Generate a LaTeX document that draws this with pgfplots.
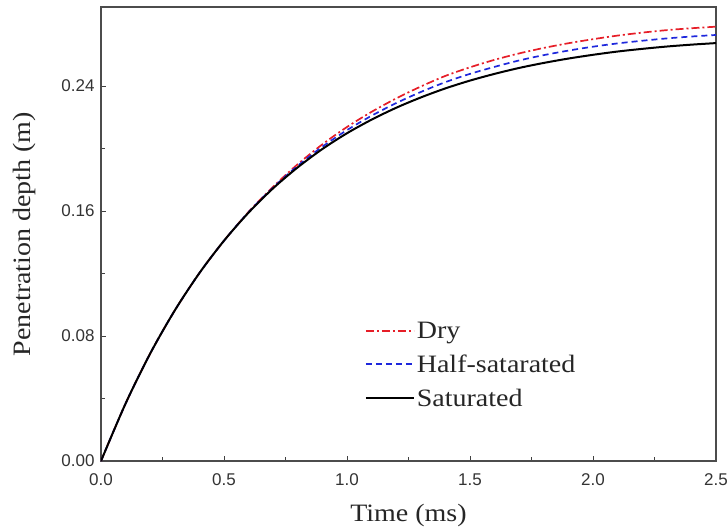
\documentclass[border=0pt]{standalone}
\usepackage{fontspec}
\usepackage{pgfplots}
\pgfplotsset{compat=1.18}
\setmainfont{Liberation Serif}
\newfontfamily\tickfont{Liberation Sans}
\newfontfamily\lblfont[FakeStretch=1.12]{Liberation Serif}
\definecolor{dryred}{RGB}{230,30,40}
\definecolor{halfblue}{RGB}{30,40,220}

\pgfplotstableread{
t y
0.0 0.0
0.1 0.0368
0.2 0.0688
0.3 0.0964
0.4 0.1203
0.5 0.1410
0.6 0.1595
0.7 0.1756
0.8 0.1900
0.9 0.2027
1.0 0.2138
1.1 0.2235
1.2 0.2321
1.3 0.2397
1.4 0.2465
1.5 0.2520
1.6 0.2568
1.7 0.2609
1.8 0.2644
1.9 0.2674
2.0 0.2700
2.1 0.2723
2.2 0.2742
2.3 0.2758
2.4 0.2770
2.5 0.2780
}\dry

\pgfplotstableread{
t y
0.0 0.0
0.1 0.0368
0.2 0.0688
0.3 0.0964
0.4 0.1203
0.5 0.1410
0.6 0.1593
0.7 0.1751
0.8 0.1890
0.9 0.2012
1.0 0.2118
1.1 0.2210
1.2 0.2291
1.3 0.2362
1.4 0.2425
1.5 0.2478
1.6 0.2523
1.7 0.2564
1.8 0.2598
1.9 0.2627
2.0 0.2652
2.1 0.2673
2.2 0.2690
2.3 0.2705
2.4 0.2717
2.5 0.2727
}\half

\pgfplotstableread{
t y
0.0 0.0
0.1 0.0368
0.2 0.0688
0.3 0.0964
0.4 0.1203
0.5 0.1410
0.6 0.1590
0.7 0.1746
0.8 0.1880
0.9 0.1997
1.0 0.2098
1.1 0.2185
1.2 0.2261
1.3 0.2327
1.4 0.2385
1.5 0.2435
1.6 0.2478
1.7 0.2516
1.8 0.2548
1.9 0.2576
2.0 0.2600
2.1 0.2621
2.2 0.2638
2.3 0.2653
2.4 0.2665
2.5 0.2675
}\sat

\begin{document}
\begin{tikzpicture}
\useasboundingbox (-101pt,-70pt) rectangle (626pt,461pt);
\begin{axis}[at={(0,0)}, anchor=south west,
  scale only axis, width=615pt, height=454pt,
  xmin=0, xmax=2.5, ymin=0, ymax=0.2906,
  xtick={0,0.5,...,2.5}, ytick={0,0.08,0.16,0.24},
  minor x tick num=1, minor y tick num=1,
  xtick pos=left, ytick pos=left, tick align=inside,
  major tick length=5pt, minor tick length=4pt,
  axis line style={black!70, line width=1.2pt},
  every tick/.style={black!75, line width=0.9pt},
  /pgf/number format/assume math mode=true,
  xticklabel style={font=\tickfont\fontsize{17}{20}\selectfont, color=black!80, yshift=-9pt, /pgf/number format/.cd, fixed, fixed zerofill, precision=1},
  yticklabel style={font=\tickfont\fontsize{17}{20}\selectfont, color=black!80, xshift=-3pt, /pgf/number format/.cd, fixed, fixed zerofill, precision=2},
  scaled y ticks=false,
  xlabel={Time (ms)}, ylabel={Penetration depth (m)},
  label style={font=\lblfont\fontsize{25}{28}\selectfont, color=black!85},
  xlabel style={yshift=-12pt},
  ylabel style={yshift=19pt},
  legend style={at={(rel axis cs:0.429,0.212)}, anchor=west, draw=none, fill=none,
    font=\lblfont\fontsize{25}{28}\selectfont, text=black!85,
    row sep=11pt, inner sep=0pt, outer sep=0pt},
  legend cell align=left,
  legend image code/.code={\draw[#1] (0pt,0pt) -- (48pt,0pt);},
]
\addplot[dryred, line width=1.7pt, dash pattern=on 8pt off 3pt on 2pt off 3pt, smooth] table[x=t,y=y] {\dry};
\addlegendentry{Dry}
\addplot[halfblue, line width=1.7pt, dash pattern=on 6pt off 4pt, smooth] table[x=t,y=y] {\half};
\addlegendentry{Half-satarated}
\addplot[black, line width=2pt, smooth] table[x=t,y=y] {\sat};
\addlegendentry{Saturated}
\end{axis}
\end{tikzpicture}
\end{document}
